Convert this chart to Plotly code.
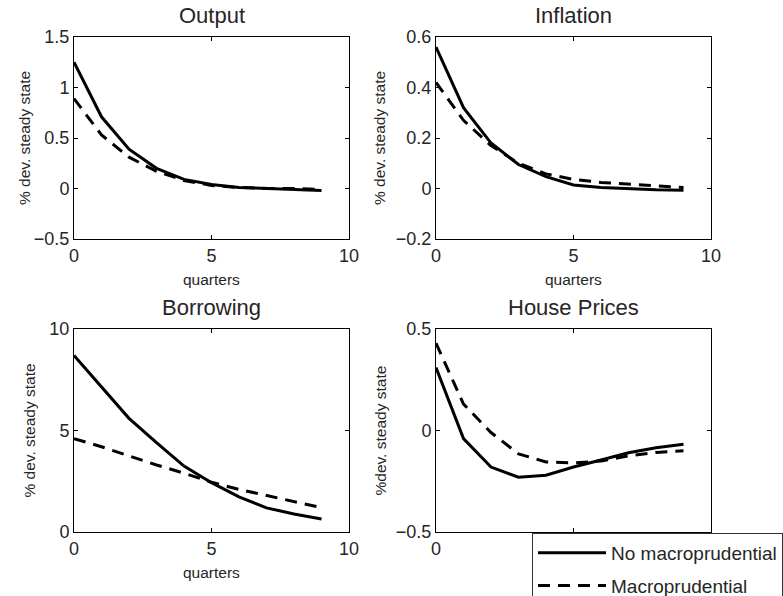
import plotly.graph_objects as go
from plotly.subplots import make_subplots

# ---------------- data ----------------
quarters = [0, 1, 2, 3, 4, 5, 6, 7, 8, 9]

output_no = [1.25, 0.71, 0.39, 0.20, 0.09, 0.04, 0.01, 0.00, -0.01, -0.02]
output_macro = [0.89, 0.53, 0.31, 0.17, 0.08, 0.03, 0.01, 0.00, 0.00, -0.01]

inflation_no = [0.56, 0.32, 0.18, 0.095, 0.047, 0.014, 0.004, -0.001, -0.005, -0.007]
inflation_macro = [0.42, 0.27, 0.17, 0.10, 0.058, 0.036, 0.024, 0.017, 0.011, 0.004]

borrowing_no = [8.7, 7.13, 5.6, 4.4, 3.25, 2.43, 1.73, 1.19, 0.89, 0.64]
borrowing_macro = [4.6, 4.2, 3.75, 3.3, 2.9, 2.45, 2.1, 1.8, 1.48, 1.2]

house_no = [0.31, -0.04, -0.18, -0.23, -0.22, -0.18, -0.145, -0.11, -0.085, -0.068]
house_macro = [0.43, 0.13, -0.01, -0.115, -0.155, -0.16, -0.15, -0.125, -0.108, -0.10]

titles = ["Output", "Inflation", "Borrowing", "House Prices"]
ylabels = ["% dev. steady state", "% dev. steady state", "% dev. steady state", "%dev. steady state"]
series_names = ["No macroprudential", "Macroprudential"]
x_ticks = [0, 5, 10]
x_ticktext = [["0", "5", "10"], ["0", "5", "10"], ["0", "5", "10"], ["0", "", ""]]
y_ranges = [[-0.5, 1.5], [-0.2, 0.6], [0, 10], [-0.5, 0.5]]
y_ticks = [[-0.5, 0, 0.5, 1, 1.5], [-0.2, 0, 0.2, 0.4, 0.6], [0, 5, 10], [-0.5, 0, 0.5]]
y_ticktext = [["\u22120.5", "0", "0.5", "1", "1.5"],
              ["\u22120.2", "0", "0.2", "0.4", "0.6"],
              ["0", "5", "10"],
              ["\u22120.5", "0", "0.5"]]
no_series = [output_no, inflation_no, borrowing_no, house_no]
macro_series = [output_macro, inflation_macro, borrowing_macro, house_macro]

# ---------------- layout geometry (pixels) ----------------
W, H = 783, 596
boxes = [(74, 349, 37, 239), (436, 711, 37, 239), (74, 349, 329, 532), (436, 711, 329, 532)]
ylabel_x = [25, 380, 29, 380]
TXT = "#262626"
FONT = "Liberation Sans, Arial, sans-serif"

fig = make_subplots(rows=2, cols=2)

for i in range(4):
    r, c = i // 2 + 1, i % 2 + 1
    fig.add_trace(go.Scatter(x=quarters, y=no_series[i], mode="lines",
                             line=dict(color="black", width=3),
                             name=series_names[0], legendgroup="a",
                             showlegend=(i == 0)), row=r, col=c)
    fig.add_trace(go.Scatter(x=quarters, y=macro_series[i], mode="lines",
                             line=dict(color="black", width=3, dash="12px,8px"),
                             name=series_names[1], legendgroup="b",
                             showlegend=(i == 0)), row=r, col=c)

annotations = []
for i in range(4):
    l, rr, t, b = boxes[i]
    sfx = "" if i == 0 else str(i + 1)
    fig.layout["xaxis" + sfx].domain = [l / W, rr / W]
    fig.layout["yaxis" + sfx].domain = [1 - b / H, 1 - t / H]
    fig.layout["xaxis" + sfx].update(range=[0, 10], tickvals=x_ticks,
                                     ticktext=x_ticktext[i])
    fig.layout["yaxis" + sfx].update(range=y_ranges[i], tickvals=y_ticks[i],
                                     ticktext=y_ticktext[i])
    cx = (l + rr) / 2
    cy = (t + b) / 2
    annotations.append(dict(text=titles[i], x=cx / W, y=1 - (t - 22) / H,
                            xref="paper", yref="paper", xanchor="center",
                            yanchor="middle", showarrow=False,
                            font=dict(size=22, color=TXT, family=FONT)))
    annotations.append(dict(text=ylabels[i], x=ylabel_x[i] / W, y=1 - cy / H,
                            xref="paper", yref="paper", xanchor="center",
                            yanchor="middle", showarrow=False, textangle=-90,
                            font=dict(size=15.5, color=TXT, family=FONT)))
    if i != 3:
        annotations.append(dict(text="quarters", x=cx / W, y=1 - (b + 40) / H,
                                xref="paper", yref="paper", xanchor="center",
                                yanchor="middle", showarrow=False,
                                font=dict(size=15.5, color=TXT, family=FONT)))

axis_style = dict(ticks="inside", ticklen=4, tickcolor="black", showline=True,
                  linecolor="black", linewidth=1, mirror="ticks", showgrid=False,
                  zeroline=False, automargin=False,
                  tickfont=dict(size=18, color=TXT, family=FONT))
fig.update_xaxes(**axis_style)
fig.update_yaxes(**axis_style)

fig.update_layout(
    width=W, height=H,
    margin=dict(l=0, r=0, t=0, b=0, autoexpand=False),
    paper_bgcolor="white", plot_bgcolor="white",
    annotations=annotations,
    showlegend=True,
    hovermode=False,
    legend=dict(x=532 / W, y=1 - 533 / H, xanchor="left", yanchor="top",
                bgcolor="white", bordercolor="#333333", borderwidth=1,
                font=dict(size=19, color=TXT, family=FONT),
                itemwidth=68, tracegroupgap=5),
)

fig.write_html("out.html",
               config={"displayModeBar": False},
               post_script="document.body.style.margin='0px';document.body.style.overflow='hidden';")
